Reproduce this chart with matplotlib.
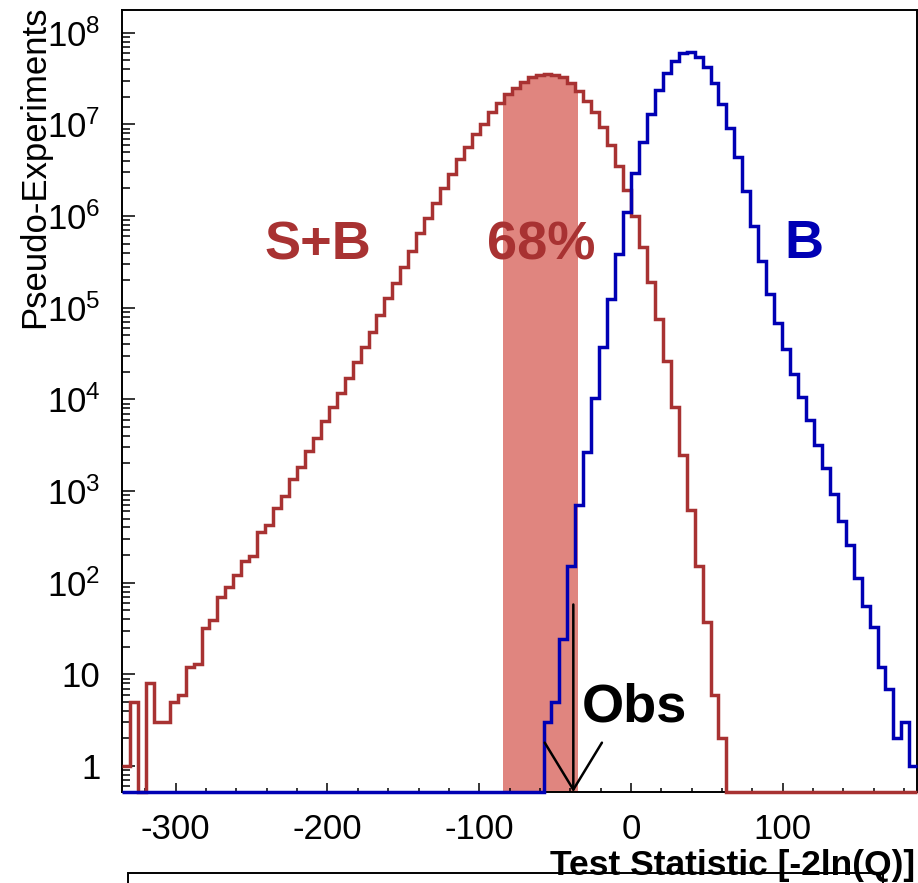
import numpy as np
import matplotlib
matplotlib.use('Agg')
import matplotlib.pyplot as plt
from matplotlib.patches import Rectangle
from matplotlib.ticker import FixedLocator, FixedFormatter, MultipleLocator, NullFormatter

plt.rcParams['font.family'] = ['Liberation Sans', 'DejaVu Sans']
plt.rcParams['mathtext.fontset'] = 'custom'
plt.rcParams['mathtext.rm'] = 'Liberation Sans'
plt.rcParams['mathtext.it'] = 'Liberation Sans:italic'
plt.rcParams['mathtext.bf'] = 'Liberation Sans:bold'

# ---------------- data ----------------
bin_width = 5.24          # width of one histogram bin
first_bin = -64           # index of the first bin (bin k covers [k*w, (k+1)*w])
n_bins = 100

# S+B pseudo-experiments, bins -64 ... 11
sb_first_bin = -64
sb_counts = [1, 5, 0, 8, 3, 3, 5, 6, 12, 13,
             32, 39, 70, 90, 121, 172, 197, 355, 426, 657,
             883, 1352, 1815, 2734, 3820, 5750, 8320, 11830, 17220, 25360,
             37580, 54700, 83200, 126700, 184500, 280000, 419000, 648000, 945000, 1377000,
             2010000, 2850000, 4160000, 5710000, 7850000, 10000000, 13700000, 17100000, 21300000, 25200000,
             29200000, 32700000, 34600000, 35700000, 35000000, 32700000, 28500000, 23300000, 18100000, 13700000,
             9300000, 5960000, 3520000, 1920000, 1000000, 454000, 192000, 74700, 26400, 8190,
             2470, 621, 152, 37, 6, 2]

# B-only pseudo-experiments, bins -11 ... 35
b_first_bin = -11
b_counts = [3, 5, 24, 152, 704, 2680, 10300, 37600, 124500, 385000,
            1120000, 2930000, 6470000, 12900000, 23700000, 36600000, 49500000, 59600000, 62000000, 54000000,
            42000000, 28500000, 16700000, 9200000, 4440000, 1860000, 780000, 322000, 141000, 67900,
            35800, 18900, 10700, 5890, 3200, 1770, 935, 469, 255, 112,
            56, 33, 12, 7, 2, 3, 1]

band_range = (-84.1, -34.7)   # 68% band of S+B
obs_value = -38.0             # observed test statistic

x_ticks = [-300, -200, -100, 0, 100]
x_tick_labels = ['-300', '-200', '-100', '0', '100']
y_ticks = [1, 10, 1e2, 1e3, 1e4, 1e5, 1e6, 1e7, 1e8]
y_tick_labels = ['1', '10', r'$10^{2}$', r'$10^{3}$', r'$10^{4}$', r'$10^{5}$',
                 r'$10^{6}$', r'$10^{7}$', r'$10^{8}$']

# ---------------- styles ----------------
W, H = 918, 883
red = '#a83232'
blue = '#0000b4'
band_color = '#e0857f'
ymin, ymax = 0.52, 1.77e8

edges = bin_width * np.arange(first_bin, first_bin + n_bins + 1)
sb = np.zeros(n_bins)
sb[sb_first_bin - first_bin: sb_first_bin - first_bin + len(sb_counts)] = sb_counts
bb = np.zeros(n_bins)
bb[b_first_bin - first_bin: b_first_bin - first_bin + len(b_counts)] = b_counts
sb_plot = np.where(sb > 0, sb, ymin)
bb_plot = np.where(bb > 0, bb, ymin)

fig = plt.figure(figsize=(W / 100, H / 100), dpi=100)
ax_l, ax_r, ax_t, ax_b = 122, 917.3, 10, 792
ax = fig.add_axes([ax_l / W, 1 - ax_b / H, (ax_r - ax_l) / W, (ax_b - ax_t) / H])
ax.set_yscale('log')
ax.set_xlim(edges[0], edges[-1])
ax.set_ylim(ymin, ymax)

# 68% band (filled under the S+B histogram)
fill = ax.stairs(sb_plot, edges, fill=True, color=band_color, baseline=ymin, lw=0, zorder=1)
clip = Rectangle((band_range[0], ymin), band_range[1] - band_range[0], ymax - ymin,
                 transform=ax.transData)
fill.set_clip_path(clip)

ax.stairs(sb_plot, edges, baseline=None, color=red, lw=2.5, zorder=3, clip_on=False)
ax.stairs(bb_plot, edges, baseline=None, color=blue, lw=2.5, zorder=4, clip_on=False)

# observed arrow
ax.annotate('', xy=(obs_value, ymin), xytext=(0, 135), textcoords='offset points',
            xycoords='data',
            arrowprops=dict(arrowstyle='->,head_length=1.69,head_width=1.03', lw=1.8,
                            color='black', shrinkA=0, shrinkB=0, mutation_scale=20),
            zorder=5)

# axes styling
for s in ax.spines.values():
    s.set_linewidth(1.4)
    s.set_color('black')
ax.xaxis.set_major_locator(FixedLocator(x_ticks))
ax.xaxis.set_major_formatter(FixedFormatter(x_tick_labels))
ax.xaxis.set_minor_locator(MultipleLocator(20))
ax.yaxis.set_major_locator(FixedLocator(y_ticks))
ax.yaxis.set_major_formatter(FixedFormatter(y_tick_labels))
minors = [m * 10.0 ** e for e in range(-1, 9) for m in range(2, 10)]
ax.yaxis.set_minor_locator(FixedLocator(minors))
ax.yaxis.set_minor_formatter(NullFormatter())
ax.tick_params(axis='both', which='both', direction='in', top=False, right=False,
               width=1.1, colors='black')
ax.tick_params(axis='x', which='major', length=6.5, labelsize=25, pad=15)
ax.tick_params(axis='x', which='minor', length=3.2)
ax.tick_params(axis='y', which='major', length=9.4, labelsize=25, pad=15.5)
ax.tick_params(axis='y', which='minor', length=5.8)


def px(x, y):
    return x / W, 1 - y / H


# annotations
fig.text(*px(264, 259), 'S+B', color=red, fontsize=39, fontweight='bold', ha='left', va='baseline')
fig.text(*px(487, 259), '68%', color=red, fontsize=39, fontweight='bold', ha='left', va='baseline')
fig.text(*px(784, 258), 'B', color=blue, fontsize=39, fontweight='bold', ha='left', va='baseline')
fig.text(*px(582, 722), 'Obs', color='black', fontsize=39, fontweight='bold', ha='left', va='baseline')

# axis titles
fig.text(*px(44, 5), 'Pseudo-Experiments', fontsize=25, rotation=90, rotation_mode='anchor',
         ha='right', va='baseline')
fig.add_artist(Rectangle(px(128, 900), (883 - 128) / W, 27 / H, transform=fig.transFigure,
                         fill=False, lw=1.4, ec='black', zorder=1))
fig.text(*px(915, 875), 'Test Statistic [-2ln(Q)]', fontsize=25.5, fontweight='bold',
         ha='right', va='baseline', zorder=5)

fig.savefig('out.png', dpi=100)
